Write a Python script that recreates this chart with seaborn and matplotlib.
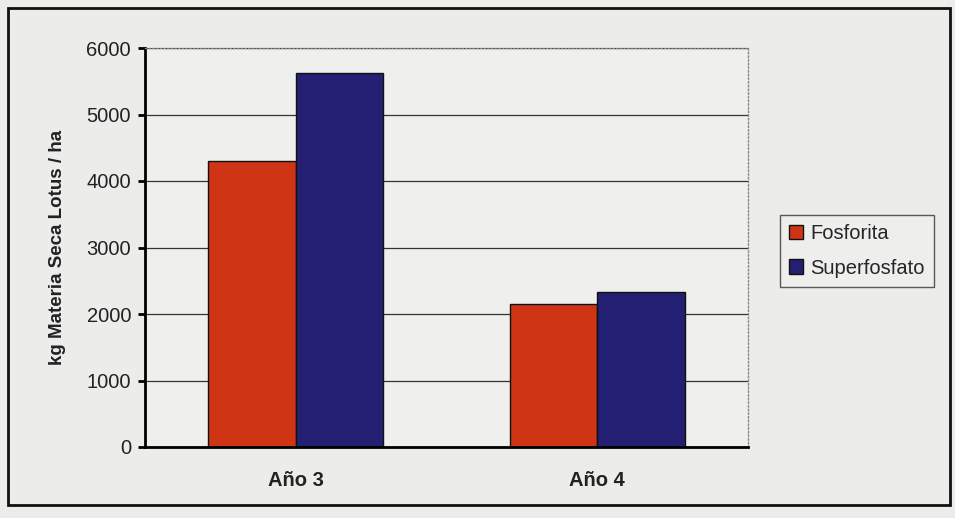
import matplotlib
matplotlib.use("Agg")
import matplotlib.pyplot as plt
import seaborn as sns
import pandas as pd
from matplotlib.patches import Rectangle

categories = ["Año 3", "Año 4"]
fosforita = [4300, 2150]
superfosfato = [5630, 2330]
series_names = ["Fosforita", "Superfosfato"]
yticks = [0, 1000, 2000, 3000, 4000, 5000, 6000]

df = pd.DataFrame({
    "Año": categories * 2,
    "Valor": fosforita + superfosfato,
    "Tratamiento": [series_names[0]] * 2 + [series_names[1]] * 2,
})

sns.set_theme(style="white")
plt.rcParams['font.family'] = ['Liberation Sans', 'DejaVu Sans']

fig = plt.figure(figsize=(9.55, 5.18), dpi=100)
fig.patch.set_facecolor("#ececeb")
ax = fig.add_axes([145/955, 1-447/518, (748-145)/955, (447-48)/518])
ax.set_facecolor("#efefee")

sns.barplot(data=df, x="Año", y="Valor", hue="Tratamiento",
            palette=["#cf3414", "#231f72"], width=0.58,
            edgecolor="#111111", linewidth=1.0, ax=ax, saturation=1)

ax.set_ylim(0, 6000)
ax.set_xlim(-0.5, 1.5)
ax.set_yticks(yticks)
ax.set_yticklabels([str(v) for v in yticks], fontsize=14.5, color="#222222")
ax.yaxis.grid(True, color="#333333", linewidth=0.9)
ax.set_axisbelow(True)
ax.set_xticks([0.5], minor=True)
ax.set_xticks([0, 1])
ax.set_xticklabels(categories, fontsize=14.5, fontweight="bold", color="#222222")
ax.tick_params(axis="x", which="major", length=0, pad=17)
ax.tick_params(axis="x", which="minor", length=5, width=2, direction="out", color="black")
ax.tick_params(axis="y", length=5, width=2, direction="out", color="black", pad=5, left=True)
ax.set_xlabel("")
ax.set_ylabel("kg Materia Seca Lotus / ha", fontsize=13.5, fontweight="bold",
              color="#222222", labelpad=15)

for s in ["left", "bottom"]:
    ax.spines[s].set_color("black")
    ax.spines[s].set_linewidth(2)
for s in ["top", "right"]:
    ax.spines[s].set_color("#888888")
    ax.spines[s].set_linewidth(1)
    ax.spines[s].set_linestyle(":")

leg = ax.legend(loc="center left", bbox_to_anchor=(770/955, 1-251/518),
                bbox_transform=fig.transFigure, frameon=True, fontsize=14.5,
                handlelength=0.7, handleheight=0.7, handletextpad=0.35,
                borderpad=0.45, labelspacing=0.75, fancybox=False,
                edgecolor="#333333", facecolor="#efefee")
leg.get_frame().set_linewidth(1)
leg.set_title(None)

fig.patches.append(Rectangle((8/955, 1-505/518), 942/955, 497/518,
                             transform=fig.transFigure, fill=False,
                             edgecolor="#111111", linewidth=2))

fig.savefig("out.png", dpi=100, facecolor=fig.get_facecolor())
